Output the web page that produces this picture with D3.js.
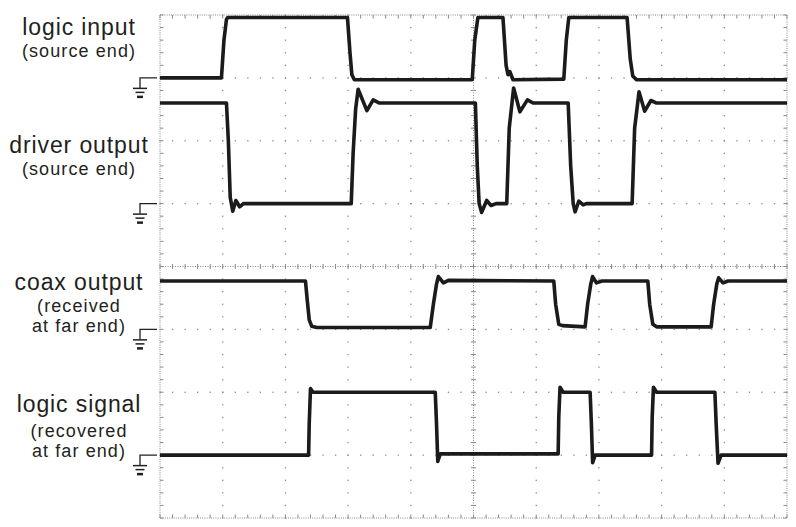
<!DOCTYPE html>
<html><head><meta charset="utf-8">
<script src="https://cdn.jsdelivr.net/npm/d3@7"></script>
<style>
html,body{margin:0;padding:0;background:#fff;}
svg{display:block;}
text{font-family:"Liberation Sans",Arial,sans-serif;fill:#231f20;}
</style></head>
<body><svg id="c" width="796" height="527"></svg>
<script>
// ---- data (time in divisions, level in divisions from bottom of screen) ----
const labels = [
  {main:"logic input",  sub:["(source end)"]},
  {main:"driver output",sub:["(source end)"]},
  {main:"coax output",  sub:["(received","at far end)"]},
  {main:"logic signal", sub:["(recovered","at far end)"]}
];
const groundLevels = [7.0, 5.0, 3.0, 1.0];

const logicInput = [[0,7.0],[0.98,7.0],[1.02,7.6],[1.06,7.93],[1.08,7.96],[2.99,7.96],[3.03,7.4],[3.06,7.05],[3.1,6.97],[4.98,6.97],[5.02,7.6],[5.07,7.96],[5.47,7.96],[5.52,7.2],[5.55,7.05],[5.58,7.1],[5.63,6.97],[6.44,6.98],[6.48,7.6],[6.52,7.96],[7.45,7.96],[7.5,7.3],[7.54,7.03],[7.6,6.97],[10,6.97]];

const driverOutput = [[0,6.6],[1.06,6.6],[1.09,6.0],[1.12,5.1],[1.16,4.88],[1.21,5.05],[1.27,4.95],[1.33,5.0],[3.05,5.0],[3.08,5.8],[3.12,6.5],[3.16,6.82],[3.3,6.48],[3.4,6.65],[3.5,6.6],[5.03,6.6],[5.06,5.6],[5.09,5.0],[5.13,4.86],[5.21,5.05],[5.28,4.97],[5.36,5.0],[5.53,5.0],[5.57,6.2],[5.64,6.84],[5.74,6.46],[5.86,6.65],[5.95,6.6],[6.51,6.6],[6.55,5.6],[6.59,5.0],[6.62,4.87],[6.68,5.04],[6.75,4.98],[6.8,5.0],[7.53,5.0],[7.57,6.2],[7.64,6.78],[7.73,6.47],[7.83,6.64],[7.92,6.6],[10,6.6]];

const coaxOutput = [[0,3.77],[2.32,3.77],[2.35,3.45],[2.38,3.15],[2.42,3.05],[2.5,3.03],[4.31,3.03],[4.36,3.4],[4.41,3.72],[4.44,3.84],[4.52,3.74],[4.6,3.78],[6.28,3.77],[6.31,3.4],[6.36,3.08],[6.42,3.06],[6.78,3.04],[6.82,3.4],[6.87,3.72],[6.9,3.84],[6.96,3.74],[7.05,3.77],[7.78,3.77],[7.81,3.4],[7.86,3.08],[7.92,3.04],[8.79,3.04],[8.83,3.4],[8.88,3.72],[8.91,3.82],[8.98,3.74],[9.06,3.77],[10,3.77]];

const logicSignal = [[0,1.0],[2.37,1.0],[2.38,1.5],[2.40,2.06],[2.44,2.0],[4.39,2.0],[4.41,1.5],[4.43,0.9],[4.47,1.02],[6.35,1.02],[6.36,1.6],[6.38,2.08],[6.43,2.0],[6.86,2.0],[6.88,1.5],[6.90,0.88],[6.94,1.0],[7.84,1.0],[7.85,1.6],[7.87,2.08],[7.92,2.0],[8.85,2.0],[8.87,1.5],[8.90,0.87],[8.95,1.0],[10,1.0]];

const traces = [logicInput, driverOutput, coaxOutput, logicSignal];

// label layout (baselines) kept separate from data
const labelY = [[35,[57]],[153,[175]],[290,[312,332]],[412,[437,457]]];

// ---- drawing ----
const svg = d3.select("#c");
const x = d3.scaleLinear().domain([0,10]).range([160,787]);
const y = d3.scaleLinear().domain([0,8]).range([518,15]);
const gridCol = "#8a8a8a";

const g = svg.append("g");
const minorX = d3.range(0, 50.5).map(i=>i/5);
const minorY = d3.range(0, 40.5).map(i=>i/5);

// inner grid lines as dots at minor positions
for (let i=1;i<10;i++){
  if(i===5) continue;
  g.selectAll(null).data(minorY).enter().append("rect")
    .attr("x", x(i)-0.6).attr("y", d=>y(d)-0.6).attr("width",1.3).attr("height",1.3).attr("fill",gridCol);
}
for (let j=1;j<8;j++){
  if(j===4) continue;
  g.selectAll(null).data(minorX).enter().append("rect")
    .attr("x", d=>x(d)-0.6).attr("y", y(j)-0.6).attr("width",1.3).attr("height",1.3).attr("fill",gridCol);
}
// center lines: fine dotted + ticks
g.append("line").attr("x1",x(5)).attr("x2",x(5)).attr("y1",y(8)).attr("y2",y(0))
  .attr("stroke",gridCol).attr("stroke-width",1).attr("stroke-dasharray","1,1.5");
g.append("line").attr("x1",x(0)).attr("x2",x(10)).attr("y1",y(4)).attr("y2",y(4))
  .attr("stroke",gridCol).attr("stroke-width",1).attr("stroke-dasharray","1,1.5");
g.selectAll(null).data(minorY).enter().append("line")
  .attr("x1",x(5)-2.5).attr("x2",x(5)+2.5).attr("y1",d=>y(d)).attr("y2",d=>y(d))
  .attr("stroke",gridCol).attr("stroke-width",1);
g.selectAll(null).data(minorX).enter().append("line")
  .attr("y1",y(4)-2.5).attr("y2",y(4)+2.5).attr("x1",d=>x(d)).attr("x2",d=>x(d))
  .attr("stroke",gridCol).attr("stroke-width",1);
// border
g.append("rect").attr("x",x(0)).attr("y",y(8)).attr("width",x(10)-x(0)).attr("height",y(0)-y(8))
  .attr("fill","none").attr("stroke",gridCol).attr("stroke-width",1).attr("stroke-dasharray","1,1.2");
// border ticks
[[x(0),1],[x(10),-1]].forEach(([px,dir])=>{
  g.selectAll(null).data(minorY).enter().append("line")
    .attr("x1",px).attr("x2",px+dir*3.5).attr("y1",d=>y(d)).attr("y2",d=>y(d))
    .attr("stroke",gridCol).attr("stroke-width",1);
});
[[y(8),1],[y(0),-1]].forEach(([py,dir])=>{
  g.selectAll(null).data(minorX).enter().append("line")
    .attr("y1",py).attr("y2",py+dir*3.5).attr("x1",d=>x(d)).attr("x2",d=>x(d))
    .attr("stroke",gridCol).attr("stroke-width",1);
});

// traces
const line = d3.line().x(d=>x(d[0])).y(d=>y(d[1]));
svg.selectAll("path.trace").data(traces).enter().append("path")
  .attr("class","trace").attr("d",line)
  .attr("fill","none").attr("stroke","#1c1a1b").attr("stroke-width",3.6)
  .attr("stroke-linejoin","round").attr("stroke-linecap","butt");

// ground symbols
const gs = svg.selectAll("g.gnd").data(groundLevels).enter().append("g").attr("class","gnd")
  .attr("transform",d=>`translate(0,${y(d)})`);
gs.append("path").attr("d","M157,0H140V10").attr("fill","none").attr("stroke","#231f20").attr("stroke-width",1.3);
gs.append("line").attr("x1",133).attr("x2",147).attr("y1",10.5).attr("y2",10.5).attr("stroke","#231f20").attr("stroke-width",1.5);
gs.append("line").attr("x1",135.5).attr("x2",144.5).attr("y1",14.5).attr("y2",14.5).attr("stroke","#231f20").attr("stroke-width",1.5);
gs.append("line").attr("x1",137).attr("x2",143).attr("y1",19).attr("y2",19).attr("stroke","#231f20").attr("stroke-width",2.5);

// labels
labels.forEach((L,i)=>{
  svg.append("text").attr("x",79).attr("y",labelY[i][0]).attr("text-anchor","middle")
    .attr("font-size",23).attr("letter-spacing",0.9).text(L.main);
  L.sub.forEach((s,k)=>{
    svg.append("text").attr("x",79).attr("y",labelY[i][1][k]).attr("text-anchor","middle")
      .attr("font-size",18).attr("letter-spacing",1.1).text(s);
  });
});
</script></body></html>
